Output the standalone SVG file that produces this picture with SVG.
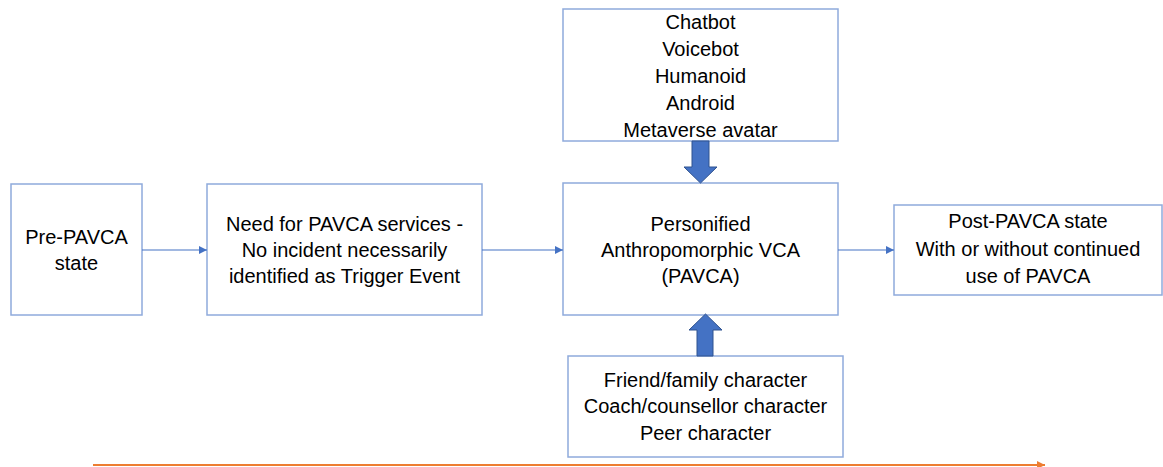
<svg xmlns="http://www.w3.org/2000/svg" width="1163" height="467" viewBox="0 0 1163 467">
<style>
.box{fill:#fff;stroke:#8faadc;stroke-width:1.5}
.t{font-family:"Liberation Sans",Arial,sans-serif;font-size:20px;fill:#000;text-anchor:middle}
.con{stroke:#4472c4;stroke-width:1.2;fill:none}
.blk{fill:#4472c4;stroke:#2f528f;stroke-width:1}
</style>
<defs>
<marker id="ah" viewBox="0 0 10 10" refX="10" refY="5" markerWidth="8" markerHeight="8" markerUnits="userSpaceOnUse" orient="auto">
<path d="M0,0 L10,5 L0,10 z" fill="#4472c4"/>
</marker>
<marker id="oah" viewBox="0 0 10 10" refX="10" refY="5" markerWidth="8" markerHeight="8" markerUnits="userSpaceOnUse" orient="auto">
<path d="M0,0 L10,5 L0,10 z" fill="#ed7d31"/>
</marker>
</defs>
<rect width="1163" height="467" fill="#fff"/>
<g id="pre">
<rect class="box" x="11" y="184" width="131" height="131"/>
<text class="t" x="76.5" y="244">Pre-PAVCA</text>
<text class="t" x="76.5" y="270">state</text>
</g>
<g id="need">
<rect class="box" x="207" y="184" width="275" height="131"/>
<text class="t" x="344.5" y="231">Need for PAVCA services -</text>
<text class="t" x="344.5" y="257">No incident necessarily</text>
<text class="t" x="344.5" y="283">identified as Trigger Event</text>
</g>
<g id="pavca">
<rect class="box" x="563" y="183" width="275" height="132"/>
<text class="t" x="700.5" y="231">Personified</text>
<text class="t" x="700.5" y="257">Anthropomorphic VCA</text>
<text class="t" x="700.5" y="283">(PAVCA)</text>
</g>
<g id="types">
<rect class="box" x="563" y="9" width="275" height="132"/>
<text class="t" x="700.5" y="29">Chatbot</text>
<text class="t" x="700.5" y="56">Voicebot</text>
<text class="t" x="700.5" y="83">Humanoid</text>
<text class="t" x="700.5" y="110">Android</text>
<text class="t" x="700.5" y="137">Metaverse avatar</text>
</g>
<g id="characters">
<rect class="box" x="568" y="356" width="275" height="101"/>
<text class="t" x="705.5" y="387">Friend/family character</text>
<text class="t" x="705.5" y="413">Coach/counsellor character</text>
<text class="t" x="705.5" y="440">Peer character</text>
</g>
<g id="post">
<rect class="box" x="894" y="205" width="268" height="90"/>
<text class="t" x="1028" y="228">Post-PAVCA state</text>
<text class="t" x="1028" y="256">With or without continued</text>
<text class="t" x="1028" y="283">use of PAVCA</text>
</g>
<g id="connectors">
<line class="con" x1="142" y1="250" x2="207" y2="250" marker-end="url(#ah)"/>
<line class="con" x1="482" y1="250" x2="563" y2="250" marker-end="url(#ah)"/>
<line class="con" x1="838" y1="250" x2="894" y2="250" marker-end="url(#ah)"/>
<path class="blk" d="M692,141 L709,141 L709,167 L717,167 L700.5,183 L684,167 L692,167 Z"/>
<path class="blk" d="M697,356 L713,356 L713,330 L722,330 L705.5,314 L689,330 L697,330 Z"/>
<line x1="93" y1="465" x2="1045" y2="465" stroke="#ed7d31" stroke-width="2" marker-end="url(#oah)"/>
</g>
</svg>
